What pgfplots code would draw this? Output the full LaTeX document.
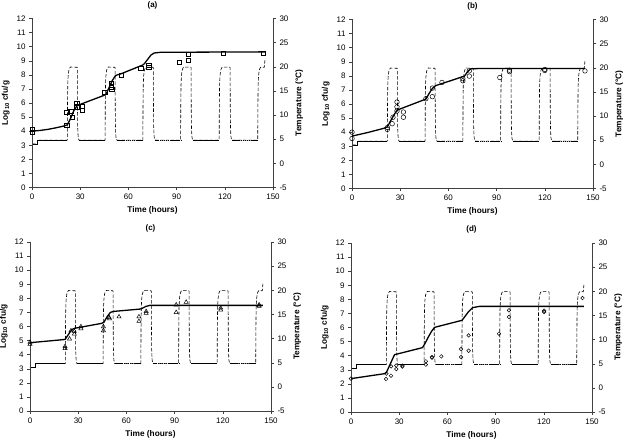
\documentclass[border=0pt]{standalone}
\usepackage{pgfplots}
\pgfplotsset{compat=1.18}
\usepackage{pgfplotstable}
\usepackage{fontspec}
\setmainfont{Liberation Sans}

\pgfplotstableread[row sep=\\]{
t T\\
0 4.0\\ 3.5 4.0\\ 3.5 4.8\\ 22 4.8\\
22.1 12\\ 22.25 16.3\\ 22.5 18.1\\ 22.9 19.2\\ 23.4 19.7\\ 24.0 19.95\\ 28.0 19.9\\ 28.2 19.8\\ 28.3 12\\ 28.45 7.5\\ 28.7 5.6\\ 29.1 4.9\\ 29.5 4.8\\
45.5 4.8\\ 45.6 12\\ 45.75 16.3\\ 46.0 18.1\\ 46.4 19.2\\ 46.9 19.7\\ 47.5 19.95\\ 51.5 19.9\\ 51.7 19.8\\ 51.8 12\\ 51.95 7.5\\ 52.2 5.6\\ 52.6 4.9\\ 53.0 4.8\\
69 4.8\\ 69.1 12\\ 69.25 16.3\\ 69.5 18.1\\ 69.9 19.2\\ 70.4 19.7\\ 71.0 19.95\\ 75.3 19.9\\ 75.5 19.8\\ 75.6 12\\ 75.75 7.5\\ 76.0 5.6\\ 76.4 4.9\\ 76.8 4.8\\
92.5 4.8\\ 92.6 12\\ 92.75 16.3\\ 93.0 18.1\\ 93.4 19.2\\ 93.9 19.7\\ 94.5 19.95\\ 98.8 19.9\\ 99.0 19.8\\ 99.1 12\\ 99.25 7.5\\ 99.5 5.6\\ 99.9 4.9\\ 100.3 4.8\\
116.5 4.8\\ 116.6 12\\ 116.75 16.3\\ 117.0 18.1\\ 117.4 19.2\\ 117.9 19.7\\ 118.5 19.95\\ 123.1 19.9\\ 123.3 19.8\\ 123.4 12\\ 123.55 7.5\\ 123.8 5.6\\ 124.2 4.9\\ 124.6 4.8\\
140.5 4.8\\ 140.6 12\\ 140.75 16.3\\ 141.0 18.1\\ 141.4 19.2\\ 141.9 19.7\\ 142.5 19.95\\ 144.6 19.9\\ 145 21.5\\
}\temp

\pgfplotstableread[row sep=\\]{
t T\\
0 4.0\\ 3.5 4.0\\ 3.5 4.8\\ 22 4.8\\ 25 nan\\ 29.5 4.8\\ 45.5 4.8\\ 50 nan\\ 100.3 4.8\\ 116.5 4.8\\
}\tempsolid

\pgfplotstableread[row sep=\\]{
t T\\
53 4.8\\ 69 4.8\\ 72 nan\\ 76.8 4.8\\ 92.5 4.8\\ 95 nan\\ 124.6 4.8\\ 140.5 4.8\\
}\tempnoisy

\pgfplotsset{
  common/.style={
    width=241pt, height=169pt, scale only axis,
    xmin=0, xmax=150,
    tick align=outside, major tick length=3pt,
    axis line style={black!75},
    every tick/.style={black!75},
    tick label style={font=\fontsize{8}{9}\selectfont},
    label style={font=\bfseries\fontsize{8.3}{10}\selectfont},
    title style={font=\bfseries\fontsize{8}{9}\selectfont},
    /pgf/number format/assume math mode=true,
    anchor=south west,
  },
  leftax/.style={common,
    ymin=0, ymax=12, xtick={0,30,...,150}, ytick={0,1,...,12},
    axis x line*=bottom, axis y line*=left,
    xlabel={Time (hours)}, ylabel={Log\textsubscript{10} cfu/g},
  },
  rightax/.style={common,
    ymin=-5, ymax=30, ytick={-5,0,...,30},
    axis y line*=right, axis x line=none,
    ylabel={Temperature (°C)},
  },
  model/.style={black, line width=1.3pt},
}

\newcommand{\temperature}{%
  \addplot[black, line width=0.6pt, dash pattern=on 3.5pt off 1.8pt] table[x=t,y=T]{\temp};
  \addplot[black, line width=0.55pt, unbounded coords=jump] table[x=t,y=T]{\tempsolid};
  \addplot[black, line width=0.9pt, dash pattern=on 1.5pt off 0.6pt, unbounded coords=jump] table[x=t,y=T]{\tempnoisy};
}

\begin{document}
\begin{tikzpicture}
\useasboundingbox (0,0) rectangle (627pt,447pt);

% ---------- (a)
\begin{axis}[rightax, at={(32pt,259.5pt)}]
\temperature
\end{axis}
\begin{axis}[leftax, at={(32pt,259.5pt)}, title={(a)}]
\addplot[model] coordinates {(0,4.0)(5,4.05)(10,4.13)(15,4.24)(20,4.37)(22,4.45)(24,4.9)(26,5.45)(28,5.8)(30,5.9)(45,6.55)(46,6.62)(48,7.1)(50,7.6)(52,7.95)(56,8.1)(69,8.7)(70,8.8)(72,9.1)(74,9.4)(76,9.55)(80,9.6)(145,9.63)};
\addplot[only marks, mark=square, mark size=2.1pt, mark options={black, fill=white, line width=0.5pt}] coordinates {(0,4.12)(0,3.95)(21.6,5.36)(21.6,4.4)(24.1,5.43)(24.9,4.98)(27.8,5.98)(27.8,5.74)(31.3,5.78)(31.3,5.48)(45.3,6.79)(49.4,7.42)(49.4,7.15)(49.6,6.95)(55.5,7.95)(67.7,8.45)(72.7,8.66)(72.7,8.52)(91.4,8.9)(97.4,9.48)(97.4,9.05)(119,9.52)(144,9.55)};
\end{axis}

% ---------- (b)
\begin{axis}[rightax, at={(352pt,258.5pt)}]
\temperature
\end{axis}
\begin{axis}[leftax, at={(352pt,258.5pt)}, title={(b)}]
\addplot[model] coordinates {(0,3.72)(10,3.98)(20,4.28)(22,4.38)(24,4.8)(26,5.2)(28,5.55)(30,5.65)(46,6.35)(48,6.75)(50,7.1)(52,7.3)(70,7.98)(72,8.3)(74,8.5)(80,8.52)(145,8.52)};
\addplot[only marks, mark=o, mark size=2.3pt, mark options={black, line width=0.5pt}] coordinates {(0,4.0)(0,3.55)(22,4.33)(22,4.2)(25,4.6)(25.5,5.06)(28,5.5)(28,5.8)(28,6.14)(32,5.43)(32,5.06)(46,6.38)(50,7.13)(50,6.52)(56,7.53)(69,7.8)(69,7.65)(73,8.35)(73,7.98)(92,7.88)(98,8.4)(98,8.3)(120,8.45)(120,8.38)(145,8.35)};
\end{axis}

% ---------- (c)
\begin{axis}[rightax, at={(30pt,36pt)}]
\temperature
\end{axis}
\begin{axis}[leftax, at={(30pt,36pt)}, title={(c)}]
\addplot[model] coordinates {(0,4.85)(21,5.07)(22,5.1)(24,5.45)(26,5.78)(27.6,5.87)(44.5,6.22)(46,6.3)(48,6.7)(50,7.0)(51.9,7.07)(68.8,7.24)(70,7.3)(72,7.42)(74.6,7.5)(145,7.5)};
\addplot[only marks, mark=triangle, mark size=2.4pt, mark options={black, line width=0.5pt}] coordinates {(0,4.88)(0,4.75)(21.8,4.58)(21.8,4.45)(24.6,5.12)(25.5,5.7)(27.6,5.66)(27.6,5.47)(31.7,5.99)(31.7,5.85)(45.7,5.99)(45.7,5.71)(49.2,6.65)(49.5,6.55)(55.4,6.69)(67.8,6.69)(67.8,6.37)(72.3,7.07)(72.3,6.95)(91,7.54)(91,7.0)(97.2,7.73)(118.7,7.31)(118.7,7.17)(142.6,7.54)(142.6,7.45)};
\end{axis}

% ---------- (d)
\begin{axis}[rightax, at={(351pt,35pt)}]
\temperature
\end{axis}
\begin{axis}[leftax, at={(351pt,35pt)}, title={(d)}]
\addplot[model] coordinates {(0,2.37)(20.8,2.72)(22,2.8)(24,3.3)(26,3.8)(27.1,4.07)(44.5,4.57)(46,4.85)(48,5.3)(50,5.7)(52,6.01)(69.1,6.51)(71,6.8)(73,7.1)(75.7,7.41)(80,7.5)(145,7.5)};
\addplot[only marks, mark=o, mark size=1.8pt, mark options={black, line width=0.5pt}] coordinates {(0,2.37)(21.8,2.34)(22,2.72)(24.9,2.58)(25,3.24)(28.2,3.05)(28.2,3.3)(32,3.29)(32,3.22)(46.6,3.6)(46.6,3.36)(50.4,3.9)(50.4,3.85)(56.2,3.95)(68.5,4.47)(68.5,3.9)(73.2,5.44)(73.2,4.35)(92.1,5.56)(98.3,7.22)(98.3,6.75)(120.2,7.19)(120.2,7.1)(144.1,8.09)};
\end{axis}
\end{tikzpicture}
\end{document}
